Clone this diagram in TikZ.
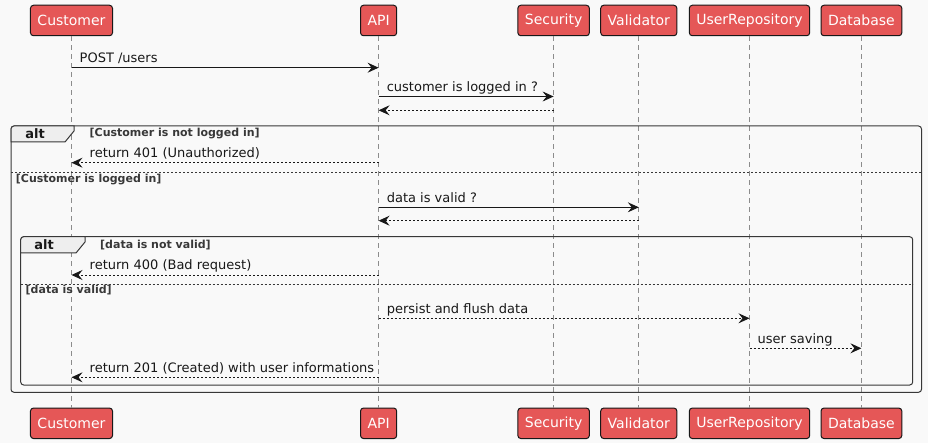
\documentclass[tikz,border=0pt]{standalone}
\usepackage{fontspec}
\setmainfont{DejaVu Sans}
\usepackage{xcolor}
\usetikzlibrary{arrows.meta}
\definecolor{bgcol}{RGB}{249,249,249}
\definecolor{partred}{RGB}{229,87,87}
\definecolor{partline}{RGB}{24,24,24}
\definecolor{framecol}{RGB}{56,56,56}
\definecolor{tabcol}{RGB}{238,238,238}
\definecolor{lifecol}{RGB}{140,140,140}
\tikzstyle{partnode}=[draw=partline, line width=1pt, fill=partred, text=white, rounded corners=3pt, minimum height=30.5pt, inner xsep=7pt, inner ysep=0pt, font=\fontsize{14}{16}\selectfont]
\tikzstyle{lifeline}=[draw=lifecol, line width=0.8pt, dash pattern=on 5pt off 4pt]
\tikzstyle{msg}=[-{Stealth[length=11pt, width=10pt, inset=4pt]}, line width=0.9pt, color=partline]
\tikzstyle{reply}=[msg, dash pattern=on 2pt off 2pt]
\tikzstyle{msgtext}=[inner sep=0pt, anchor=base west, text=partline, font=\fontsize{13}{15}\selectfont]
\tikzstyle{condtext}=[inner sep=0pt, anchor=west, text=framecol, font=\fontsize{11}{13}\selectfont\bfseries]
\tikzstyle{altframe}=[draw=framecol, line width=1pt, rounded corners=3pt]
\tikzstyle{alttab}=[draw=framecol, line width=1pt, fill=tabcol]
\tikzstyle{altsep}=[draw=framecol, line width=0.8pt, dash pattern=on 2pt off 2pt]

\begin{document}
\begin{tikzpicture}[x=1pt, y=-1pt]
\path[fill=bgcol] (0,0) rectangle (928,443);
\useasboundingbox (0,0) rectangle (928,443);

% participants
\node [partnode] (custTop) at (71.5,20.5) {Customer};
\node [partnode] (apiTop) at (378.6,20.5) {API};
\node [partnode] (secTop) at (553.6,20.5) {Security};
\node [partnode] (valTop) at (638.8,20.5) {Validator};
\node [partnode] (repoTop) at (749.5,20.5) {UserRepository};
\node [partnode] (dbTop) at (861.4,20.5) {Database};
\node [partnode] (custBot) at (71.5,423.3) {Customer};
\node [partnode] (apiBot) at (378.6,423.3) {API};
\node [partnode] (secBot) at (553.6,423.3) {Security};
\node [partnode] (valBot) at (638.8,423.3) {Validator};
\node [partnode] (repoBot) at (749.5,423.3) {UserRepository};
\node [partnode] (dbBot) at (861.4,423.3) {Database};

\draw[lifeline] (custTop) -- (custBot);
\draw[lifeline] (apiTop) -- (apiBot);
\draw[lifeline] (secTop) -- (secBot);
\draw[lifeline] (valTop) -- (valBot);
\draw[lifeline] (repoTop) -- (repoBot);
\draw[lifeline] (dbTop) -- (dbBot);

% alt frames
\draw[altframe] (11,126) rectangle (921.5,392.3);
\draw[alttab] (11,142) -- (11,129) [rounded corners=3pt] -- (11,126) [sharp corners] -- (74,126) -- (74,131) -- (65,142) -- cycle;
\node [font=\fontsize{13}{15}\selectfont\bfseries, text=partline, inner sep=0pt] (altOut) at (35,134) {alt};
\node [condtext] (condOut1) at (89.5,134) {[Customer is not logged in]};
\draw[altsep] (11,172.3) -- (921.5,172.3);
\node [condtext] (condOut2) at (15.7,180) {[Customer is logged in]};

\draw[altframe] (20.7,236.7) rectangle (912.7,385);
\draw[alttab] (20.7,253) -- (20.7,239.7) [rounded corners=3pt] -- (20.7,236.7) [sharp corners] -- (85,236.7) -- (85,242) -- (76,253) -- cycle;
\node [font=\fontsize{13}{15}\selectfont\bfseries, text=partline, inner sep=0pt] (altIn) at (44,245) {alt};
\node [condtext] (condIn1) at (100,245) {[data is not valid]};
\draw[altsep] (20.7,284.3) -- (912.7,284.3);
\node [condtext] (condIn2) at (25.5,290.5) {[data is valid]};

% messages
\coordinate (m1a) at (custTop |- 0,67.7);
\coordinate (m1b) at (apiTop |- 0,67.7);
\coordinate (m2a) at (apiTop |- 0,96.5);
\coordinate (m2b) at (secTop |- 0,96.5);
\coordinate (m3a) at (secTop |- 0,110.3);
\coordinate (m3b) at (apiTop |- 0,110.3);
\coordinate (m4a) at (apiTop |- 0,162.7);
\coordinate (m4b) at (custTop |- 0,162.7);
\coordinate (m5a) at (apiTop |- 0,207.3);
\coordinate (m5b) at (valTop |- 0,207.3);
\coordinate (m6a) at (valTop |- 0,220.7);
\coordinate (m6b) at (apiTop |- 0,220.7);
\coordinate (m7a) at (apiTop |- 0,275);
\coordinate (m7b) at (custTop |- 0,275);
\coordinate (m8a) at (apiTop |- 0,318.3);
\coordinate (m8b) at (repoTop |- 0,318.3);
\coordinate (m9a) at (repoTop |- 0,348.3);
\coordinate (m9b) at (dbTop |- 0,348.3);
\coordinate (m10a) at (apiTop |- 0,377.3);
\coordinate (m10b) at (custTop |- 0,377.3);

\draw[msg] (m1a) -- (m1b);
\draw[msg] (m2a) -- (m2b);
\draw[reply] (m3a) -- (m3b);
\draw[reply] (m4a) -- (m4b);
\draw[msg] (m5a) -- (m5b);
\draw[reply] (m6a) -- (m6b);
\draw[reply] (m7a) -- (m7b);
\draw[reply] (m8a) -- (m8b);
\draw[reply] (m9a) -- (m9b);
\draw[reply] (m10a) -- (m10b);

\node [msgtext] (lbl1) at ([xshift=8pt, yshift=5pt]m1a) {POST /users};
\node [msgtext] (lbl2) at ([xshift=8pt, yshift=5pt]m2a) {customer is logged in ?};
\node [msgtext] (lbl4) at ([xshift=18pt, yshift=5pt]m4b) {return 401 (Unauthorized)};
\node [msgtext] (lbl5) at ([xshift=8pt, yshift=5pt]m5a) {data is valid ?};
\node [msgtext] (lbl7) at ([xshift=18pt, yshift=5pt]m7b) {return 400 (Bad request)};
\node [msgtext] (lbl8) at ([xshift=8pt, yshift=5pt]m8a) {persist and flush data};
\node [msgtext] (lbl9) at ([xshift=8pt, yshift=5pt]m9a) {user saving};
\node [msgtext] (lbl10) at ([xshift=18pt, yshift=5pt]m10b) {return 201 (Created) with user informations};
\end{tikzpicture}
\end{document}
